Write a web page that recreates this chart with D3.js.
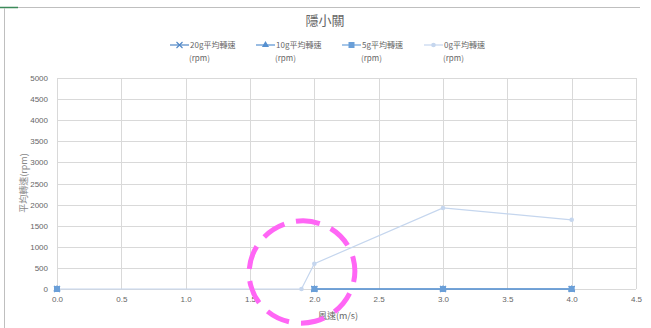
<!DOCTYPE html>
<html><head><meta charset="utf-8">
<script src="https://cdn.jsdelivr.net/npm/d3@7"></script>
<style>body{margin:0;background:#fff}svg{display:block;font-family:"Noto Sans CJK TC","Noto Sans",sans-serif}</style>
</head><body>
<svg id="c" width="651" height="328"></svg>
<script>
const title = "隱小關";
const windSpeed = [0, 1.9, 2, 3, 4];
const s20g = [0, null, 0, 0, 0];
const s10g = [0, null, 0, 0, 0];
const s5g  = [0, null, 0, 0, 0];
const s0g  = [0, 0, 600, 1920, 1640];
const seriesNames = ["20g平均轉速", "10g平均轉速", "5g平均轉速", "0g平均轉速"];
const xTicks = [0, 0.5, 1, 1.5, 2, 2.5, 3, 3.5, 4, 4.5];
const yTicks = [0, 500, 1000, 1500, 2000, 2500, 3000, 3500, 4000, 4500, 5000];

const svg = d3.select("#c");
const W = 651, H = 328;
const m = {l: 57, r: 15, t: 78, b: 39};
const x = d3.scaleLinear().domain([0, 4.5]).range([m.l, W - m.r]);
const y = d3.scaleLinear().domain([0, 5000]).range([H - m.b, m.t]);

// outer frame
svg.append("line").attr("x1", 0).attr("x2", 640).attr("y1", 7.5).attr("y2", 7.5).attr("stroke", "#bfbfbf").attr("stroke-width", 1);
svg.append("line").attr("x1", 0).attr("x2", 18).attr("y1", 7.5).attr("y2", 7.5).attr("stroke", "#3c8a5a").attr("stroke-width", 1.5);
svg.append("line").attr("x1", 4.5).attr("x2", 4.5).attr("y1", 8).attr("y2", H).attr("stroke", "#bfbfbf").attr("stroke-width", 1);

// grid
const g = svg.append("g");
g.selectAll(".hg").data(yTicks).join("line")
  .attr("x1", m.l).attr("x2", W - m.r)
  .attr("y1", d => Math.round(y(d)) + 0.5).attr("y2", d => Math.round(y(d)) + 0.5)
  .attr("stroke", "#d9d9d9").attr("stroke-width", 1);
g.selectAll(".vg").data(xTicks).join("line")
  .attr("x1", d => Math.round(x(d)) + 0.5).attr("x2", d => Math.round(x(d)) + 0.5)
  .attr("y1", m.t).attr("y2", H - m.b)
  .attr("stroke", "#d9d9d9").attr("stroke-width", 1);

// axes labels
const yAxis = d3.axisLeft(y).tickValues(yTicks).tickSize(0).tickPadding(9).tickFormat(d3.format("d"));
const ya = svg.append("g").attr("transform", `translate(${m.l},0)`).call(yAxis);
ya.select(".domain").remove();
ya.selectAll("text").attr("fill", "#666").attr("font-size", 8).attr("font-family", "Liberation Sans, sans-serif");

const xAxis = d3.axisBottom(x).tickValues(xTicks).tickSize(0).tickPadding(7).tickFormat(d3.format(".1f"));
const xa = svg.append("g").attr("transform", `translate(0,${H - m.b})`).call(xAxis);
xa.select(".domain").remove();
xa.selectAll("text").attr("fill", "#666").attr("font-size", 8).attr("font-family", "Liberation Sans, sans-serif");

// titles
svg.append("text").attr("x", 325).attr("y", 25).attr("text-anchor", "middle")
  .attr("font-size", 13).attr("fill", "#666").text(title);
svg.append("text").attr("x", 338).attr("y", 319).attr("text-anchor", "middle")
  .attr("font-size", 9).attr("fill", "#666").text("風速(m/s)");
svg.append("text").attr("transform", "translate(27,183) rotate(-90)").attr("text-anchor", "middle")
  .attr("font-size", 9).attr("fill", "#888").text("平均轉速(rpm)");

// series
const series = [
  {name: seriesNames[0], vals: s20g, color: "#4f86c6", marker: "x"},
  {name: seriesNames[1], vals: s10g, color: "#5690d0", marker: "tri"},
  {name: seriesNames[2], vals: s5g,  color: "#6a9fd8", marker: "sq"},
  {name: seriesNames[3], vals: s0g,  color: "#c5d6ee", marker: "circ"}
];
function drawMarker(sel, type, color) {
  if (type === "sq") sel.append("rect").attr("x", -3).attr("y", -3).attr("width", 6).attr("height", 6).attr("fill", color);
  else if (type === "tri") sel.append("path").attr("d", d3.symbol(d3.symbolTriangle, 22)()).attr("fill", color);
  else if (type === "circ") sel.append("circle").attr("r", 2.3).attr("fill", color);
  else sel.append("path").attr("d", "M-3,-3L3,3M-3,3L3,-3").attr("stroke", color).attr("stroke-width", 1.1).attr("fill", "none");
}
const plot = svg.append("g");
[series[3], series[0], series[1], series[2]].forEach(s => {
  const pts = windSpeed.map((w, i) => ({x: w, y: s.vals[i]}));
  const line = d3.line().defined(d => d.y !== null).x(d => x(d.x)).y(d => y(d.y));
  plot.append("path").datum(pts).attr("d", line).attr("fill", "none")
    .attr("stroke", s.color).attr("stroke-width", 1.2);
  pts.filter(d => d.y !== null).forEach(d => {
    const mg = plot.append("g").attr("transform", `translate(${x(d.x)},${y(d.y)})`);
    drawMarker(mg, s.marker, s.color);
  });
});

// legend
const legX = [170, 256, 342, 424];
series.forEach((s, i) => {
  const lg = svg.append("g").attr("transform", `translate(${legX[i]},45)`);
  lg.append("line").attr("x1", 0).attr("x2", 19).attr("y1", 0).attr("y2", 0).attr("stroke", s.color).attr("stroke-width", 1.2);
  const mg = lg.append("g").attr("transform", "translate(9.5,0)");
  drawMarker(mg, s.marker, s.color);
  lg.append("text").attr("x", 20).attr("y", 3).attr("font-size", 8).attr("fill", "#666").text(s.name);
  lg.append("text").attr("x", 19).attr("y", 16).attr("font-size", 8).attr("fill", "#666").text("(rpm)");
});

// annotation: dashed magenta circle
svg.append("ellipse").attr("cx", 302).attr("cy", 272).attr("rx", 53).attr("ry", 51)
  .attr("fill", "none").attr("stroke", "#ff66f5").attr("stroke-width", 5)
  .attr("stroke-dasharray", "24,12").attr("transform", "rotate(-15,302,272)");
</script>
</body></html>
